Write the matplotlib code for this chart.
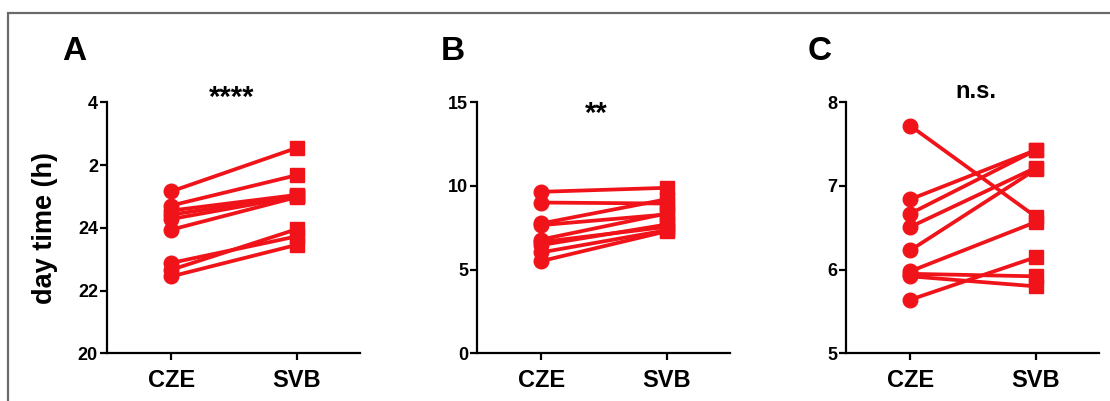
import matplotlib
matplotlib.use("Agg")
import matplotlib.pyplot as plt
from matplotlib.patches import Rectangle

plt.rcParams['font.family'] = ['Liberation Sans', 'DejaVu Sans']

groups = ["CZE", "SVB"]

# Panel A: clock time in hours (values > 24 are past midnight)
A_cze = [25.16, 24.71, 24.55, 24.42, 24.28, 23.94, 22.88, 22.66, 22.45]
A_svb = [26.55, 25.68, 25.05, 25.02, 25.00, 24.98, 23.73, 23.96, 23.46]
A_ticks = [20, 22, 24, 26, 28]
A_ticklabels = ["20", "22", "24", "2", "4"]

# Panel B
B_cze = [9.65, 9.01, 7.76, 7.66, 6.80, 6.65, 6.47, 6.03, 5.51]
B_svb = [9.89, 8.95, 9.21, 8.30, 8.36, 7.56, 7.70, 7.36, 7.30]
B_ticks = [0, 5, 10, 15]

# Panel C
C_cze = [7.72, 6.84, 6.67, 6.51, 6.23, 5.98, 5.95, 5.92, 5.64]
C_svb = [6.63, 7.43, 7.43, 7.22, 7.20, 6.57, 5.92, 5.80, 6.15]
C_ticks = [5, 6, 7, 8]

panels = [
    ("A", A_cze, A_svb, (20, 28), A_ticks, A_ticklabels, "****", 107),
    ("B", B_cze, B_svb, (0, 15), B_ticks, [str(t) for t in B_ticks], "**", 477),
    ("C", C_cze, C_svb, (5, 8), C_ticks, [str(t) for t in C_ticks], "n.s.", 846),
]

W, H = 1110, 401
fig = plt.figure(figsize=(W / 100, H / 100), dpi=100)
red = '#f0141a'

# frame lines (top and left)
fig.add_artist(Rectangle((8 / W, -0.1), 1.2, (H - 13) / H + 0.1, transform=fig.transFigure,
                         fill=False, edgecolor='#6a6a6a', linewidth=1.6))

ax_w = 253
y_top, y_bot = 102.3, 353.3
letter_x = {"A": 62, "B": 441, "C": 808}
sig_info = {"A": (232, 98, 21), "B": (596, 114, 21), "C": (976, 91, 17)}

for name, cze, svb, ylim, ticks, labels, sig, left in panels:
    ax = fig.add_axes([left / W, (H - y_bot) / H, ax_w / W, (y_bot - y_top) / H])
    for a, b in zip(cze, svb):
        ax.plot([0, 1], [a, b], color=red, linewidth=2.7, solid_capstyle='butt', zorder=2)
    ax.plot([0] * len(cze), cze, 'o', color=red, markersize=10.5, zorder=3)
    ax.plot([1] * len(svb), svb, 's', color=red, markersize=10, zorder=3)
    ax.set_xlim(-0.51, 1.5)
    ax.set_ylim(*ylim)
    ax.set_yticks(ticks)
    ax.set_yticklabels(labels, fontsize=13, fontweight='bold')
    ax.set_xticks([0, 1])
    ax.set_xticklabels(groups, fontsize=17, fontweight='bold')
    for s in ['top', 'right']:
        ax.spines[s].set_visible(False)
    for s in ['left', 'bottom']:
        ax.spines[s].set_linewidth(1.6)
        ax.spines[s].set_color('black')
    ax.tick_params(axis='y', length=5, width=1.6, pad=1.5)
    ax.tick_params(axis='x', length=5, width=1.6, pad=6)
    ax.patch.set_alpha(0)
    if name == "A":
        ax.set_ylabel("day time (h)", fontsize=19.5, fontweight='bold', labelpad=14)
    fig.text(letter_x[name] / W, (H - 60) / H, name, fontsize=24, fontweight='bold',
             ha='left', va='baseline')
    sx, sy, fs = sig_info[name]
    fig.text(sx / W, (H - sy) / H, sig, fontsize=fs, fontweight='bold', ha='center', va='center')

fig.savefig("out.png", dpi=100)
